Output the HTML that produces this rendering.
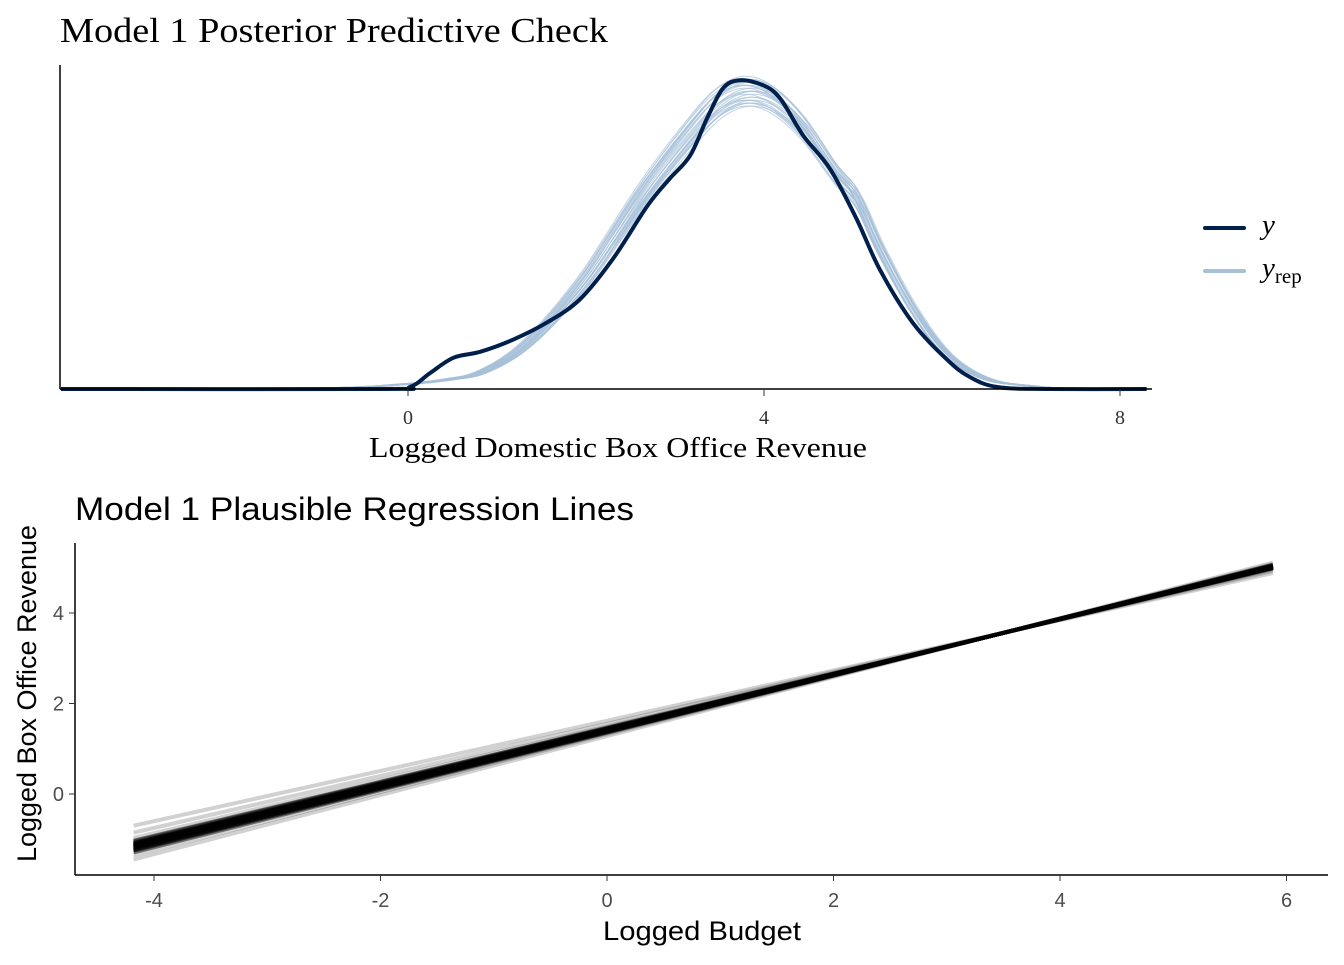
<!DOCTYPE html>
<html><head><meta charset="utf-8"><style>
body{margin:0;background:#fff;}
svg text{font-family:"Liberation Serif",serif;}
.sans{font-family:"Liberation Sans",sans-serif;}
</style></head><body>
<svg id="chart" width="1344" height="960" viewBox="0 0 1344 960">
<text x="60" y="42" font-size="35" textLength="548" lengthAdjust="spacingAndGlyphs" fill="#000">Model 1 Posterior Predictive Check</text>
<g id="topPanel"></g>
<line x1="60" y1="65" x2="60" y2="389" stroke="#000" stroke-width="1.5"/>
<line x1="60" y1="389" x2="1152" y2="389" stroke="#000" stroke-width="1.5"/>
<g id="topticks"></g>
<text x="369" y="457" font-size="29" textLength="498" lengthAdjust="spacingAndGlyphs">Logged Domestic Box Office Revenue</text>
<g>
<line x1="1205" y1="228" x2="1244" y2="228" stroke="#011f4b" stroke-width="4" stroke-linecap="round"/>
<text x="1262" y="234" font-size="29" font-style="italic">y</text>
<line x1="1205" y1="271" x2="1244" y2="271" stroke="#a7c1d9" stroke-width="4" stroke-linecap="round"/>
<text x="1262" y="277" font-size="29"><tspan font-style="italic">y</tspan><tspan font-size="21" dy="6">rep</tspan></text>
</g>
<text class="sans" x="75" y="520" font-size="32" textLength="559" lengthAdjust="spacingAndGlyphs">Model 1 Plausible Regression Lines</text>
<g id="botPanel"></g>
<line x1="75" y1="543" x2="75" y2="875" stroke="#000" stroke-width="1.5"/>
<line x1="75" y1="875" x2="1328" y2="875" stroke="#000" stroke-width="1.5"/>
<g id="botticks"></g>
<text class="sans" x="603" y="940" font-size="27" textLength="198" lengthAdjust="spacingAndGlyphs">Logged Budget</text>
<text class="sans" x="0" y="0" font-size="27" textLength="337" lengthAdjust="spacingAndGlyphs" transform="translate(36,862) rotate(-90)">Logged Box Office Revenue</text>
</svg>
<script>
const yX=[-3.9,-0.31,0.02,0.25,0.51,0.81,1.18,1.56,1.93,2.30,2.69,2.94,3.17,3.36,3.54,3.73,3.99,4.18,4.44,4.74,5.04,5.30,5.67,6.06,6.31,6.62,7.18,8.3];
const yD=[0,0,0.002,0.016,0.031,0.037,0.049,0.066,0.089,0.129,0.182,0.209,0.232,0.269,0.299,0.307,0.302,0.289,0.252,0.219,0.169,0.119,0.066,0.029,0.012,0.002,0,0];
const repX=[-3.9,-1,0,0.5,0.81,1.2,1.56,2.0,2.30,2.69,3.17,3.5,3.8,4.1,4.44,4.8,5.04,5.30,5.67,6.06,6.5,7.0,7.5,8.3];
const repD=[0,0.001,0.005,0.01,0.016,0.035,0.064,0.11,0.149,0.2,0.254,0.285,0.296,0.288,0.26,0.215,0.19,0.14,0.08,0.034,0.01,0.003,0,0];
const repShift=[0,0.03,-0.03,0.05,-0.05,0.015,-0.015,0.04,-0.04,0.06,-0.06,0.01,-0.01,0.03,-0.025,0.045,-0.045,0.02,-0.02,0.035,-0.035,0.055,-0.055,0.005,0.065,-0.065,0.025,-0.005];
const repScale=[1,1.03,0.97,0.98,1.02,1.04,0.96,1.01,0.99,0.97,1.03,1.04,0.95,1.0,1.05,0.95,1.02,0.98,1.03,0.96,1.01,0.99,1.02,0.97,1.0,1.04,0.96,1.02];
const topTicks=[0,4,8];
const slopes=[0.612,0.618,0.605,0.622,0.609,0.615,0.628,0.600,0.611,0.619,0.624,0.607,0.613,0.632,0.598,0.616,0.610,0.621,0.603,0.626,0.614,0.606,0.640,0.590,0.575,0.652,0.555];
const intercepts=[1.418,1.397,1.443,1.383,1.428,1.41,1.365,1.46,1.42,1.395,1.376,1.435,1.415,1.35,1.467,1.404,1.425,1.386,1.45,1.37,1.41,1.44,1.32,1.495,1.55,1.28,1.62];
const xRange=[-4.18,5.88];
const botXTicks=[-4,-2,0,2,4,6];
const botYTicks=[0,2,4];
const NS="http://www.w3.org/2000/svg";
const tx=v=>408+v*89, ty=d=>389-d*1006;
const bx=v=>607+v*113.25, by=v=>794-v*45.25;
function smooth(xs,ys,fx,fy){const p=xs.map((x,i)=>[fx(x),fy(ys[i])]);let s="M"+p[0][0]+","+p[0][1];for(let i=0;i<p.length-1;i++){const p0=p[i-1]||p[i],p1=p[i],p2=p[i+1],p3=p[i+2]||p2;s+="C"+(p1[0]+(p2[0]-p0[0])/6).toFixed(1)+","+(p1[1]+(p2[1]-p0[1])/6).toFixed(1)+" "+(p2[0]-(p3[0]-p1[0])/6).toFixed(1)+","+(p2[1]-(p3[1]-p1[1])/6).toFixed(1)+" "+p2[0].toFixed(1)+","+p2[1].toFixed(1);}return s;}
const topG=document.getElementById("topPanel");
for(let k=0;k<repShift.length;k++){
 const p=document.createElementNS(NS,"path");
 
 
 const xs=repX.map((x,i)=>(i===0||i===repX.length-1)?x:x+repShift[k]);
 p.setAttribute("d",smooth(xs,repD.map(d=>d*repScale[k]),tx,ty));
 p.setAttribute("fill","none");p.setAttribute("stroke","#a7c1d9");p.setAttribute("stroke-width","1");p.setAttribute("stroke-opacity","0.7");
 topG.appendChild(p);
}
const yp=document.createElementNS(NS,"path");


yp.setAttribute("d",smooth(yX,yD,tx,ty));
yp.setAttribute("fill","none");yp.setAttribute("stroke","#011f4b");yp.setAttribute("stroke-width","4");
topG.appendChild(yp);
const tt=document.getElementById("topticks");
topTicks.forEach(v=>{
 const l=document.createElementNS(NS,"line");
 
 
 l.setAttribute("x1",tx(v));l.setAttribute("x2",tx(v));l.setAttribute("y1",389);l.setAttribute("y2",396);l.setAttribute("stroke","#333");
 tt.appendChild(l);
 const t=document.createElementNS(NS,"text");
 
 
 t.setAttribute("x",tx(v));t.setAttribute("y",424);t.setAttribute("text-anchor","middle");t.setAttribute("font-size","20");t.setAttribute("fill","#333");
 t.textContent=v;tt.appendChild(t);
});
const botG=document.getElementById("botPanel");
for(let k=0;k<slopes.length;k++){
 const l=document.createElementNS(NS,"line");
 
 
 l.setAttribute("x1",bx(xRange[0]));l.setAttribute("x2",bx(xRange[1]));
 l.setAttribute("y1",by(intercepts[k]+slopes[k]*xRange[0]));l.setAttribute("y2",by(intercepts[k]+slopes[k]*xRange[1]));
 l.setAttribute("stroke","#000");l.setAttribute("stroke-width","4");l.setAttribute("stroke-opacity",k>=22?"0.18":"0.45");
 botG.appendChild(l);
}
const bt=document.getElementById("botticks");
botXTicks.forEach(v=>{
 const l=document.createElementNS(NS,"line");
 
 
 l.setAttribute("x1",bx(v));l.setAttribute("x2",bx(v));l.setAttribute("y1",875);l.setAttribute("y2",881);l.setAttribute("stroke","#333");
 bt.appendChild(l);
 const t=document.createElementNS(NS,"text");
 
 
 t.setAttribute("x",bx(v));t.setAttribute("y",907);t.setAttribute("text-anchor","middle");t.setAttribute("font-size","20");t.setAttribute("fill","#4d4d4d");t.setAttribute("class","sans");
 t.textContent=v;bt.appendChild(t);
});
botYTicks.forEach(v=>{
 const l=document.createElementNS(NS,"line");
 
 
 l.setAttribute("x1",69);l.setAttribute("x2",75);l.setAttribute("y1",by(v));l.setAttribute("y2",by(v));l.setAttribute("stroke","#333");
 bt.appendChild(l);
 const t=document.createElementNS(NS,"text");
 
 
 t.setAttribute("x",64);t.setAttribute("y",by(v)+7);t.setAttribute("text-anchor","end");t.setAttribute("font-size","20");t.setAttribute("fill","#4d4d4d");t.setAttribute("class","sans");
 t.textContent=v;bt.appendChild(t);
});
</script>
</body></html>
